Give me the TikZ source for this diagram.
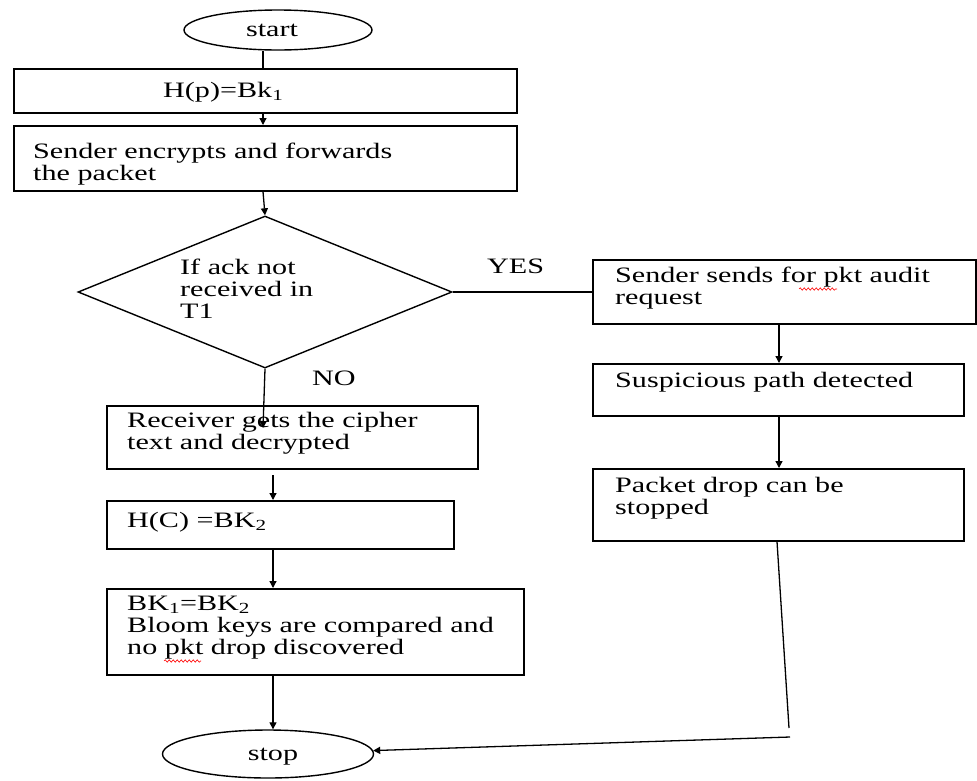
\documentclass[tikz,border=0pt]{standalone}
\usepackage{fontspec}
\setmainfont{Liberation Serif}[FakeStretch=1.37]
\usetikzlibrary{arrows.meta,shapes.geometric,decorations.pathmorphing}
\newcommand\txtlines[1]{\begin{tabular}[t]{@{}l@{}}#1\end{tabular}}
\begin{document}
\begin{tikzpicture}[x=1pt,y=-1pt,font=\fontsize{22}{22}\selectfont,
  box/.style={draw, rectangle, line width=1.5pt, inner sep=0pt, anchor=north west},
  lbl/.style={inner sep=0pt, anchor=base west},
  oval/.style={draw, ellipse, line width=1.4pt, inner sep=0pt},
  ln/.style={line width=1.3pt},
  arr/.style={line width=1.3pt, -{Triangle[length=7pt,width=7pt]}},
  squiggle/.style={red, line width=0.6pt, decorate, decoration={snake, amplitude=1.2pt, segment length=4pt}}]
\fill[white] (0,0) rectangle (977,780);
\useasboundingbox (0,0) rectangle (977,780);

% left column
\node[oval, minimum width=188pt, minimum height=40pt] (start) at (278,30) {};
\node[inner sep=0pt, anchor=base] (tstart) at (272,36) {start};
\node[box, minimum width=503pt, minimum height=44pt] (hp) at (13,68) {};
\node[lbl] (thp) at (163,97) {H(p)=Bk\textsubscript{1}};
\node[box, minimum width=503pt, minimum height=65pt] (enc) at (13,125) {};
\node[lbl] (tenc) at (33,158) {\txtlines{Sender encrypts and forwards\\the packet}};
\node[draw, diamond, line width=1.4pt, inner sep=0pt, minimum width=374pt, minimum height=152pt] (dia) at (265,292) {};
\node[lbl] (tdia) at (180,274) {\txtlines{If ack not\\received in\\T1}};
\node[lbl] (yes) at (487,273) {YES};
\node[lbl] (no) at (312,385) {NO};
\node[box, minimum width=371pt, minimum height=63pt] (rec) at (106,405) {};
\node[lbl] (trec) at (127,427) {\txtlines{Receiver gets the cipher\\text and decrypted}};
\node[box, minimum width=347pt, minimum height=48pt] (hc) at (106,500) {};
\node[lbl] (thc) at (127,527) {H(C) =BK\textsubscript{2}};
\node[box, minimum width=417pt, minimum height=86pt] (bk) at (106,588) {};
\node[lbl] (tbk) at (127,610) {\txtlines{BK\textsubscript{1}=BK\textsubscript{2}\\Bloom keys are compared and\\no pkt drop discovered}};
\node[oval, minimum width=211pt, minimum height=48pt] (stop) at (268,754) {};
\node[inner sep=0pt, anchor=base] (tstop) at (273,760) {stop};

% right column
\node[box, minimum width=383pt, minimum height=64pt] (ab) at (592,259) {};
\node[lbl] (tab) at (615,282) {\txtlines{Sender sends for pkt audit\\request}};
\node[box, minimum width=371pt, minimum height=52pt] (sus) at (592,363) {};
\node[lbl] (tsus) at (615,387) {Suspicious path detected};
\node[box, minimum width=371pt, minimum height=72pt] (pd) at (592,468) {};
\node[lbl] (tpd) at (615,492) {\txtlines{Packet drop can be\\stopped}};

% helper coordinates
\coordinate (lx) at (263,0);
\coordinate (kx) at (273,0);
\coordinate (rx) at (779,0);
\coordinate (px) at (777,0);
\coordinate (recin) at (263,428);
\coordinate (hcin) at (273,475);
\coordinate (bend1) at (789,728);
\coordinate (bend2) at (790,737);

% spell-check marks under "pkt"
\draw[squiggle] (799,289) -- (837,289);
\draw[squiggle] (164,661) -- (201,661);

% connectors
\draw[ln] (start.south -| lx) -- (hp.north -| lx);
\draw[arr] (hp.south -| lx) -- (enc.north -| lx);
\draw[arr] (enc.south -| lx) -- (dia.north);
\draw[ln] (dia.east) -- (ab.west |- dia.east);
\draw[arr] (dia.south) -- (recin);
\draw[arr] (hcin) -- (hc.north -| kx);
\draw[arr] (hc.south -| kx) -- (bk.north -| kx);
\draw[arr] (bk.south -| kx) -- (stop.north -| kx);
\draw[arr] (ab.south -| rx) -- (sus.north -| rx);
\draw[arr] (sus.south -| rx) -- (pd.north -| rx);
\draw[ln] (pd.south -| px) -- (bend1);
\draw[arr] (bend2) -- (stop);
\end{tikzpicture}
\end{document}
